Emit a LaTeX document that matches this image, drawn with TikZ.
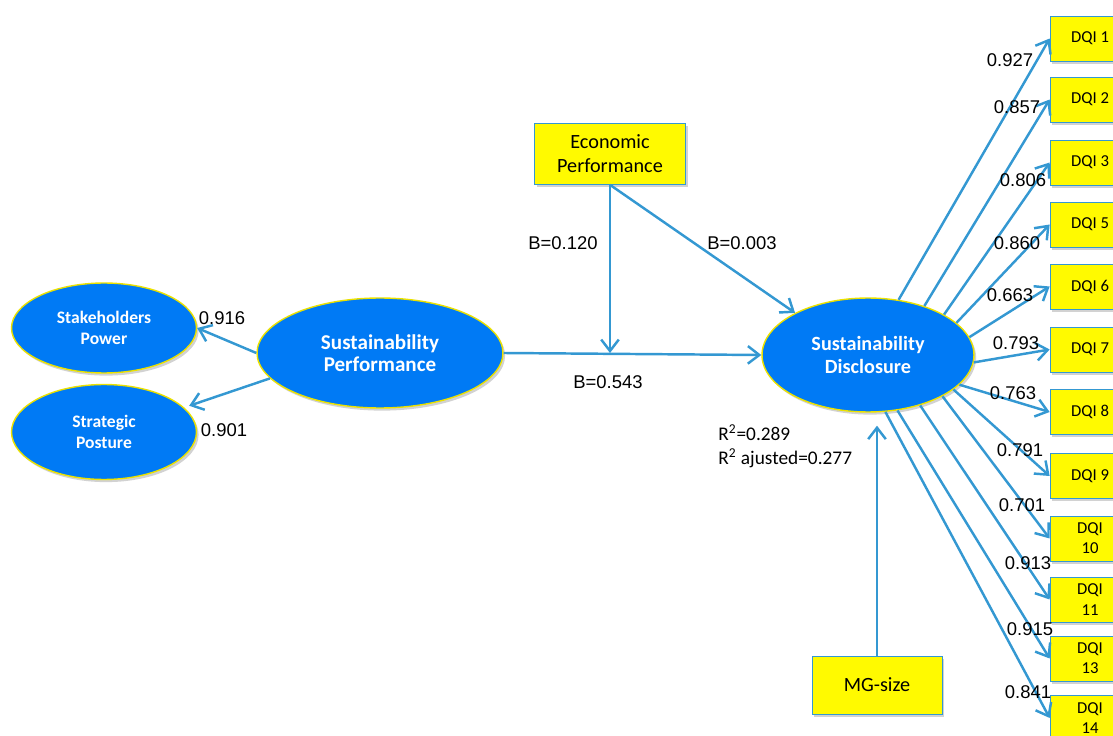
\documentclass[tikz,border=0pt]{standalone}
\usepackage{fontspec}
\setmainfont{Carlito}
\newfontfamily\numfont{Liberation Sans}
\usetikzlibrary{shapes.geometric}
\usetikzlibrary{arrows.meta}
\usetikzlibrary{calc}
\usetikzlibrary{shadows}

\definecolor{latentblue}{RGB}{0,122,245}
\definecolor{linkblue}{RGB}{52,152,210}
\definecolor{boxyellow}{RGB}{255,250,0}
\definecolor{rimyellow}{RGB}{235,225,0}

\begin{document}
\begin{tikzpicture}[x=0.02cm,y=-0.02cm,>/.tip={Straight Barb[length=6.5pt,width=10pt]},
	softshadow/.style={drop shadow={shadow xshift=1.2pt,shadow yshift=-1.5pt,opacity=0.25,fill=black!70}},
	latent/.style={draw=rimyellow,line width=0.8pt,fill=latentblue,shape=ellipse,text=white,align=center,inner sep=0pt,softshadow},
	indicator/.style={draw=linkblue,fill=boxyellow,minimum width=1.6cm,minimum height=0.9cm,align=center,font=\fontsize{9.5}{11.5}\selectfont,softshadow},
	moderator/.style={draw=linkblue,fill=boxyellow,align=center,font=\fontsize{11.5}{13.7}\selectfont,softshadow},
	link/.style={->,draw=linkblue,line width=1.4pt},
	coef/.style={font=\numfont\fontsize{10.5}{12}\selectfont,inner sep=0pt}]
	\useasboundingbox (0,0) rectangle (1113,736);
	\clip (0,0) rectangle (1113,736);
	% latent variables
	\node (SH) [latent,minimum width=3.7cm,minimum height=1.8cm,font=\bfseries\fontsize{10}{11.5}\selectfont] at (104,328) {Stakeholders\\Power};
	\node (SPo) [latent,minimum width=3.7cm,minimum height=1.9cm,font=\bfseries\fontsize{10}{11.5}\selectfont] at (104,432) {Strategic\\Posture};
	\node (SP) [latent,minimum width=4.92cm,minimum height=2.2cm,font=\bfseries\fontsize{12}{12.8}\selectfont] at (380,353) {Sustainability\\Performance};
	\node (SD) [latent,minimum width=4.24cm,minimum height=2.28cm,font=\bfseries\fontsize{11.5}{13}\selectfont] at (868,355) {Sustainability\\Disclosure};
	% moderators
	\node (Econ) [moderator,minimum width=3.02cm,minimum height=1.22cm] at (610,154) {Economic\\Performance};
	\node (MG) [moderator,minimum width=2.6cm,minimum height=1.16cm] at (877,685) {MG-size};
	% indicators
	\node (D1) [indicator] at (1090,38.5) {DQI 1};
	\node (D2) [indicator] at (1090,99.5) {DQI 2};
	\node (D3) [indicator] at (1090,162.5) {DQI 3};
	\node (D5) [indicator] at (1090,224.5) {DQI 5};
	\node (D6) [indicator] at (1090,286.5) {DQI 6};
	\node (D7) [indicator] at (1090,349.5) {DQI 7};
	\node (D8) [indicator] at (1090,412) {DQI 8};
	\node (D9) [indicator] at (1090,476) {DQI 9};
	\node (D10) [indicator] at (1090,538.5) {DQI\\10};
	\node (D11) [indicator] at (1090,599.5) {DQI\\11};
	\node (D13) [indicator] at (1090,658.5) {DQI\\13};
	\node (D14) [indicator] at (1090,718) {DQI\\14};
	% structural paths
	\coordinate (mod) at (Econ.south |- SP.east);
	\coordinate (mgtip) at ($(MG.north |- SD.south)+(0,13)$);
	\draw[link] (SP.west) -- (SH.east);
	\draw[link,shorten >=3pt] (SP.193) -- (SPo.17);
	\draw[link] (SP.east) -- (SD.west);
	\draw[link] (Econ.south) -- (mod);
	\draw[link] (Econ.south) -- (SD.150);
	\draw[link] (MG.north) -- (mgtip);
	% outer loadings
	\draw[link] (SD.61) -- (D1.west);
	\draw[link] (SD.41) -- (D2.west);
	\draw[link] (SD.28) -- (D3.west);
	\draw[link] (SD.20) -- (D5.west);
	\draw[link] (SD.10) -- (D6.west);
	\draw[link] (SD.-4) -- (D7.west);
	\draw[link] (SD.-18) -- (D8.west);
	\draw[link] (SD.-22) -- (D9.west);
	\draw[link] (SD.-29) -- (D10.west);
	\draw[link] (SD.-44) -- (D11.west);
	\draw[link] (SD.-62) -- (D13.west);
	\draw[link] (SD.-73) -- (D14.west);
	% coefficients
	\node (l916) [coef] at (222,318) {0.916};
	\node (l901) [coef] at (224,430) {0.901};
	\node (lb120) [coef] at (563,243) {B=0.120};
	\node (lb003) [coef] at (742,243) {B=0.003};
	\node (lb543) [coef] at (608,382) {B=0.543};
	\node (r2) [anchor=west,font=\fontsize{11}{13}\selectfont,inner sep=0pt] at (718,433) {R\textsuperscript{2}=0.289};
	\node (r2adj) [anchor=west,font=\fontsize{11}{13}\selectfont,inner sep=0pt] at (718,458) {R\textsuperscript{2} ajusted=0.277};
	\node (l927) [coef] at (1010,60) {0.927};
	\node (l857) [coef] at (1017,107) {0.857};
	\node (l806) [coef] at (1023,180) {0.806};
	\node (l860) [coef] at (1017,243) {0.860};
	\node (l663) [coef] at (1010,295) {0.663};
	\node (l793) [coef] at (1016,343) {0.793};
	\node (l763) [coef] at (1013,393) {0.763};
	\node (l791) [coef] at (1020,450) {0.791};
	\node (l701) [coef] at (1022,505) {0.701};
	\node (l913) [coef] at (1028,563) {0.913};
	\node (l915) [coef] at (1030,629) {0.915};
	\node (l841) [coef] at (1028,692) {0.841};
\end{tikzpicture}
\end{document}
